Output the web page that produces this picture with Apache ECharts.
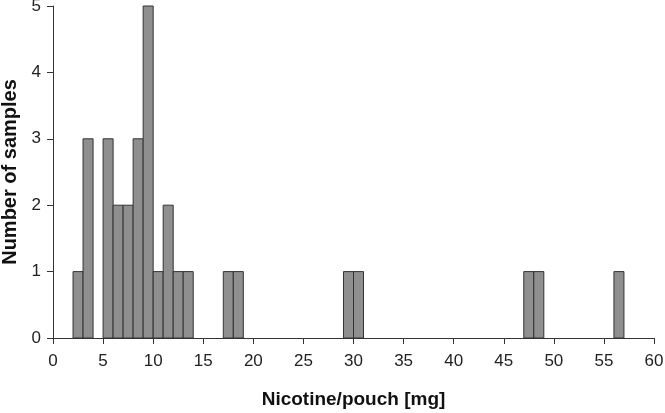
<!DOCTYPE html>
<html><head><meta charset="utf-8">
<script src="https://cdn.jsdelivr.net/npm/echarts@6/dist/echarts.min.js"></script>
<style>html,body{margin:0;padding:0;background:#fff}#c{width:665px;height:413px}</style>
</head><body><div id="c"></div>
<script>
const binStarts = [2,3,5,6,7,8,9,10,11,12,13,17,18,29,30,47,48,56];
const counts    = [1,3,3,2,2,3,5,1,2,1,1,1,1,1,1,1,1,1];
const binWidth = 1;
const xTicks = [0,5,10,15,20,25,30,35,40,45,50,55,60];
const yTicks = [0,1,2,3,4,5];

const chart = echarts.init(document.getElementById('c'));
const font = 'Liberation Sans, Arial, sans-serif';
chart.setOption({
  animation:false,
  grid:{left:53,right:11,top:6,bottom:75,outerBoundsMode:'none',containLabel:false},
  xAxis:{type:'value',min:xTicks[0],max:xTicks[xTicks.length-1],interval:5,
    name:'Nicotine/pouch [mg]',nameLocation:'middle',nameGap:52,
    nameTextStyle:{fontFamily:font,fontWeight:'bold',fontSize:19,color:'#111'},
    axisLine:{onZero:false,lineStyle:{color:'#333',width:1}},
    axisTick:{length:6,lineStyle:{color:'#333'}},
    axisLabel:{fontFamily:font,fontSize:17,color:'#222',margin:15},
    splitLine:{show:false}},
  yAxis:{type:'value',min:yTicks[0],max:yTicks[yTicks.length-1],interval:1,
    name:'Number of samples',nameLocation:'middle',nameGap:31,
    nameTextStyle:{fontFamily:font,fontWeight:'bold',fontSize:20,color:'#111'},
    axisLine:{show:true,lineStyle:{color:'#333',width:1}},
    axisTick:{show:true,length:6,lineStyle:{color:'#333'}},
    axisLabel:{fontFamily:font,fontSize:17,color:'#222',margin:12},
    splitLine:{show:false}},
  series:[{type:'custom',
    data:binStarts.map((s,i)=>[s,s+binWidth,counts[i]]),
    encode:{x:[0,1],y:2},
    renderItem:function(params,api){
      const p0=api.coord([api.value(0),0]);
      const p1=api.coord([api.value(1),api.value(2)]);
      return {type:'rect',shape:{x:p0[0],y:p1[1],width:p1[0]-p0[0],height:p0[1]-p1[1]},
        style:{fill:'#8f8f8f',stroke:'#333',lineWidth:1}};
    }}]
});
</script></body></html>
